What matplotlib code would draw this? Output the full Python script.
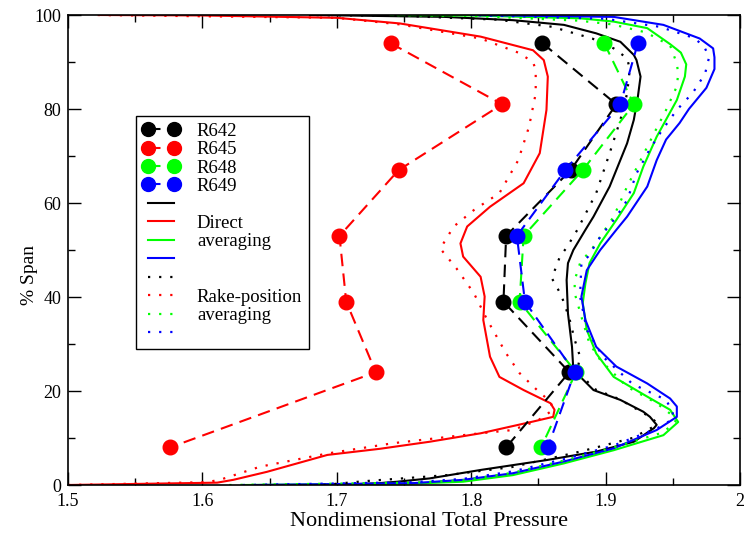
import matplotlib

matplotlib.use("Agg")
import matplotlib.pyplot as plt  # noqa: E402
from matplotlib.lines import Line2D  # noqa: E402
from matplotlib.ticker import MultipleLocator  # noqa: E402

# measured rake data (% span vs total pressure)
span_exp = [94, 81, 67, 53, 39, 24, 8]
r642_exp = [1.853, 1.908, 1.874, 1.826, 1.824, 1.873, 1.826]
r645_exp = [1.740, 1.823, 1.746, 1.702, 1.707, 1.729, 1.576]
r648_exp = [1.899, 1.921, 1.883, 1.839, 1.836, 1.878, 1.852]
r649_exp = [1.924, 1.911, 1.870, 1.834, 1.840, 1.877, 1.857]

# direct averaging (solid)
r642_direct_x = [1.700, 1.732, 1.745, 1.769, 1.807, 1.856, 1.893, 1.921, 1.936,
                 1.938, 1.933, 1.928, 1.911, 1.891, 1.876, 1.875, 1.872, 1.871,
                 1.872, 1.876, 1.885, 1.891, 1.903, 1.916, 1.921, 1.924, 1.926,
                 1.923, 1.921, 1.911, 1.893, 1.869, 1.831, 1.780, 1.680]
r642_direct_y = [0.0, 0.4, 0.7, 1.4, 3.2, 5.3, 7.1, 9.2, 12.1,
                 12.8, 14.5, 15.6, 18.1, 20.2, 24.5, 29.4, 36.5, 43.6,
                 47.2, 50.0, 54.3, 57.1, 63.5, 72.7, 77.7, 82.6, 86.9,
                 90.4, 91.5, 94.3, 96.1, 97.9, 98.9, 99.6, 100.0]

r645_direct_x = [1.500, 1.611, 1.623, 1.648, 1.693, 1.732, 1.769, 1.807, 1.846,
                 1.861, 1.862, 1.859, 1.839, 1.821, 1.814, 1.809, 1.810, 1.807,
                 1.794, 1.792, 1.797, 1.814, 1.839, 1.851, 1.856, 1.857, 1.854,
                 1.846, 1.807, 1.747, 1.700, 1.600, 1.524]
r645_direct_y = [0.0, 0.5, 1.1, 2.8, 6.4, 7.7, 9.2, 11.0, 13.5,
                 14.5, 16.0, 17.4, 20.2, 23.0, 27.3, 35.1, 40.1, 44.3,
                 48.6, 51.4, 55.0, 59.2, 64.2, 70.6, 79.8, 86.9, 90.4,
                 92.5, 95.4, 98.2, 99.4, 99.9, 100.0]

r648_direct_x = [1.630, 1.757, 1.794, 1.831, 1.869, 1.906, 1.943, 1.954, 1.948,
                 1.931, 1.906, 1.893, 1.886, 1.883, 1.885, 1.888, 1.896, 1.908,
                 1.921, 1.928, 1.938, 1.953, 1.959, 1.960, 1.956, 1.948, 1.931,
                 1.906, 1.881, 1.800, 1.740]
r648_direct_y = [0.0, 0.3, 0.7, 2.1, 4.6, 7.4, 10.6, 13.4, 16.0,
                 18.8, 23.0, 28.0, 33.0, 38.7, 42.9, 47.2, 51.4, 56.4,
                 62.1, 67.7, 74.1, 81.9, 86.9, 89.5, 92.0, 93.8, 97.2,
                 98.6, 99.3, 99.9, 100.0]

r649_direct_x = [1.640, 1.757, 1.794, 1.831, 1.869, 1.906, 1.938, 1.953, 1.953,
                 1.948, 1.931, 1.908, 1.893, 1.885, 1.882, 1.886, 1.896, 1.908,
                 1.916, 1.931, 1.938, 1.945, 1.955, 1.962, 1.975, 1.981, 1.981,
                 1.980, 1.970, 1.943, 1.906, 1.800]
r649_direct_y = [0.0, 0.4, 1.1, 2.5, 5.0, 7.8, 11.7, 14.5, 16.7,
                 18.4, 21.6, 25.2, 29.4, 35.1, 40.1, 45.7, 50.0, 54.3,
                 57.1, 63.5, 69.1, 73.5, 77.0, 80.0, 84.5, 88.5, 91.0,
                 92.9, 95.0, 97.9, 99.6, 100.0]

# rake-position averaging (dotted)
r642_rake_x = [1.690, 1.720, 1.782, 1.830, 1.881, 1.920, 1.935, 1.938, 1.933,
               1.910, 1.891, 1.879, 1.881, 1.877, 1.873, 1.867, 1.860, 1.866,
               1.871, 1.879, 1.893, 1.903, 1.911, 1.916, 1.918, 1.916, 1.906,
               1.890, 1.860, 1.820, 1.750, 1.680]
r642_rake_y = [0.0, 0.8, 2.1, 3.8, 7.1, 10.0, 12.3, 13.3, 14.5,
               18.3, 20.5, 24.5, 27.3, 30.9, 35.5, 40.4, 44.0, 48.6,
               50.5, 54.3, 62.1, 70.6, 77.7, 83.3, 88.5, 90.8, 92.9,
               95.0, 97.5, 99.0, 99.8, 100.0]

r645_rake_x = [1.500, 1.603, 1.613, 1.643, 1.693, 1.742, 1.800, 1.831, 1.850,
               1.861, 1.859, 1.849, 1.836, 1.826, 1.812, 1.802, 1.789, 1.777,
               1.787, 1.802, 1.821, 1.835, 1.843, 1.848, 1.848, 1.846, 1.835,
               1.807, 1.747, 1.700, 1.520]
r645_rake_y = [0.0, 0.6, 1.1, 3.9, 6.7, 8.9, 10.8, 11.7, 13.8,
               16.0, 17.7, 20.2, 23.8, 28.0, 35.1, 40.8, 46.1, 50.3,
               55.0, 58.5, 62.1, 69.1, 76.2, 83.3, 88.3, 90.0, 92.0,
               95.0, 98.0, 99.4, 100.0]

r648_rake_x = [1.620, 1.757, 1.794, 1.831, 1.869, 1.906, 1.943, 1.952, 1.951,
               1.938, 1.916, 1.896, 1.888, 1.882, 1.877, 1.877, 1.881, 1.891,
               1.906, 1.916, 1.926, 1.936, 1.945, 1.953, 1.954, 1.953, 1.948,
               1.930, 1.905, 1.880, 1.800, 1.740]
r648_rake_y = [0.0, 0.5, 1.0, 2.6, 5.2, 8.0, 11.2, 13.5, 14.5,
               17.4, 20.9, 26.6, 30.1, 35.8, 40.8, 43.6, 47.2, 50.7,
               57.1, 63.5, 69.1, 74.8, 79.8, 84.8, 87.5, 89.7, 93.5,
               96.3, 98.0, 98.8, 99.8, 100.0]

r649_rake_x = [1.630, 1.757, 1.794, 1.831, 1.869, 1.906, 1.938, 1.950, 1.950,
               1.945, 1.920, 1.898, 1.886, 1.881, 1.882, 1.887, 1.896, 1.908,
               1.916, 1.923, 1.933, 1.942, 1.953, 1.965, 1.974, 1.977, 1.973,
               1.965, 1.940, 1.900, 1.800]
r649_rake_y = [0.0, 0.6, 1.3, 2.9, 5.5, 8.4, 12.0, 14.0, 15.5,
               18.1, 21.5, 27.3, 33.0, 40.1, 47.2, 48.6, 52.8, 57.1,
               60.6, 66.3, 71.5, 75.5, 79.8, 83.5, 87.5, 91.0, 93.5,
               95.2, 97.5, 99.2, 100.0]

runs = ["R642", "R645", "R648", "R649"]
colors = ["#000000", "#ff0000", "#00ff00", "#0000ff"]

direct = [(r642_direct_x, r642_direct_y), (r645_direct_x, r645_direct_y),
          (r648_direct_x, r648_direct_y), (r649_direct_x, r649_direct_y)]
rake = [(r642_rake_x, r642_rake_y), (r645_rake_x, r645_rake_y),
        (r648_rake_x, r648_rake_y), (r649_rake_x, r649_rake_y)]
exp = [r642_exp, r645_exp, r648_exp, r649_exp]

DOTTED = (0, (1, 4))
DASHED = (0, (6, 3.5))

plt.rcParams["font.family"] = ["Liberation Serif", "DejaVu Serif"]

fig = plt.figure(figsize=(7.44, 5.33), dpi=100)
ax = fig.add_axes([68 / 744, 48 / 533, 672 / 744, 470 / 533])

for (x, y), c in zip(direct, colors):
    ax.plot(x, y, color=c, lw=1.5, solid_joinstyle="round")
for (x, y), c in zip(rake, colors):
    ax.plot(x, y, color=c, lw=1.6, linestyle=DOTTED)
for vals, c in zip(exp, colors):
    ax.plot(vals, span_exp, color=c, lw=1.5, linestyle=DASHED,
            marker="o", markersize=10.5)

ax.set_xlim(1.5, 2.0)
ax.set_ylim(0, 100)
ax.xaxis.set_major_locator(MultipleLocator(0.1))
ax.xaxis.set_minor_locator(MultipleLocator(0.05))
ax.yaxis.set_major_locator(MultipleLocator(20))
ax.yaxis.set_minor_locator(MultipleLocator(10))
ax.set_xticks(ax.get_xticks())
ax.set_xticklabels([f"{v:g}" for v in ax.get_xticks()])
ax.set_xlim(1.5, 2.0)
ax.tick_params(which="both", direction="in", top=True, right=True,
               labelsize=13, width=1)
ax.tick_params(which="major", length=9.5)
ax.tick_params(which="minor", length=5)
ax.tick_params(axis="x", which="major", pad=6)
ax.tick_params(axis="y", which="major", pad=5)
for s in ax.spines.values():
    s.set_linewidth(1.2)

ax.set_xlabel("Nondimensional Total Pressure", fontsize=16)
ax.xaxis.set_label_coords((429 - 68) / 672, -27 / 470)
ax.set_ylabel("% Span", fontsize=14)
ax.yaxis.set_label_coords(-30 / 672, 210 / 470)

handles = []
for c in colors:
    handles.append(Line2D([], [], color=c, lw=1.5, linestyle=DASHED,
                          marker="o", markersize=10))
for c in colors:
    handles.append(Line2D([], [], color=c, lw=1.5))
for c in colors:
    handles.append(Line2D([], [], color=c, lw=1.6, linestyle=DOTTED))
labels = runs + ["", "Direct", "averaging", "",
                 "", "Rake-position", "averaging", ""]
leg = ax.legend(handles, labels, loc="upper left",
                bbox_to_anchor=(68 / 672, 1 - 101 / 470), numpoints=2,
                fontsize=13.5, handlelength=2.0, handletextpad=0.9,
                labelspacing=0.07, borderpad=0.35, fancybox=False,
                framealpha=1, edgecolor="black", borderaxespad=0)
leg.get_frame().set_linewidth(1.0)

fig.savefig("out.png", dpi=100)
plt.close(fig)
